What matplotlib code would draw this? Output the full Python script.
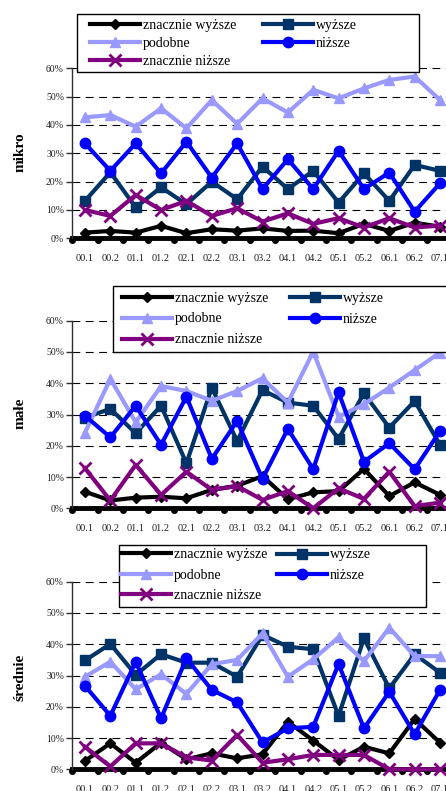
import matplotlib
matplotlib.use("Agg")
import matplotlib.pyplot as plt
import matplotlib.patches as mpatches
import matplotlib.transforms as mtransforms
import numpy as np

W, H = 446, 791
SERIF = "Liberation Serif"

periods = ["00.1", "00.2", "01.1", "01.2", "02.1", "02.2", "03.1", "03.2",
           "04.1", "04.2", "05.1", "05.2", "06.1", "06.2", "07.1"]
series_names = ["znacznie wyższe", "wyższe", "podobne", "niższe", "znacznie niższe"]

# --- mikro ---
mikro_zn_wyzsze = [2.0, 2.6, 2.0, 4.4, 1.8, 3.2, 2.7, 3.5, 2.6, 2.7, 1.8, 5.1, 2.6, 5.5, 4.1]
mikro_wyzsze = [13.2, 23.3, 10.9, 18.0, 12.0, 20.0, 13.8, 25.3, 17.4, 23.8, 12.6, 22.9, 13.2, 25.9, 23.8]
mikro_podobne = [42.7, 43.5, 39.4, 45.9, 38.8, 48.8, 40.4, 49.4, 44.4, 52.4, 49.4, 52.9, 55.9, 57.1, 48.8]
mikro_nizsze = [33.5, 23.8, 33.5, 22.9, 34.1, 21.4, 33.5, 17.4, 27.9, 17.4, 30.9, 17.4, 23.2, 9.4, 19.4]
mikro_zn_nizsze = [10.0, 7.9, 15.3, 10.0, 13.2, 7.9, 10.6, 5.9, 8.8, 5.1, 7.1, 3.8, 7.1, 3.8, 4.5]

# --- małe ---
male_zn_wyzsze = [5.3, 2.5, 3.4, 3.7, 3.2, 5.9, 7.2, 10.3, 2.9, 5.1, 5.5, 12.6, 3.9, 8.3, 4.3]
male_wyzsze = [29.0, 31.8, 24.0, 32.8, 14.4, 38.6, 21.5, 37.8, 33.8, 32.8, 22.2, 36.8, 25.8, 34.3, 20.3]
male_podobne = [24.2, 41.4, 27.5, 39.1, 37.5, 34.4, 37.5, 41.6, 33.8, 50.1, 29.3, 33.3, 38.6, 44.2, 49.8]
male_nizsze = [29.6, 22.7, 32.8, 20.3, 35.7, 15.8, 27.9, 9.4, 25.4, 12.5, 37.1, 14.9, 20.8, 12.5, 24.7]
male_zn_nizsze = [12.8, 2.5, 13.9, 4.3, 11.7, 5.9, 7.1, 2.7, 5.5, 0.0, 6.4, 3.0, 11.7, 0.7, 1.8]

# --- średnie ---
srednie_zn_wyzsze = [2.7, 8.3, 2.1, 8.5, 3.2, 5.1, 3.5, 4.8, 15.2, 9.2, 3.0, 7.2, 5.1, 16.1, 8.5]
srednie_wyzsze = [34.8, 40.1, 30.2, 36.8, 34.1, 34.1, 29.6, 43.0, 39.2, 38.4, 17.1, 41.9, 25.9, 36.8, 30.9]
srednie_podobne = [29.6, 34.4, 25.6, 30.4, 24.1, 33.6, 35.0, 43.5, 29.6, 35.2, 42.2, 34.6, 45.3, 36.2, 36.2]
srednie_nizsze = [26.7, 17.1, 34.4, 16.3, 35.5, 25.4, 21.4, 8.6, 13.1, 13.6, 33.7, 13.1, 24.8, 11.2, 25.4]
srednie_zn_nizsze = [7.2, 0.9, 8.3, 8.3, 3.8, 2.8, 11.0, 2.1, 3.2, 4.6, 4.6, 4.6, 0.0, 0.0, 0.0]

# colour, marker, markersize, extra kwargs
STYLE = {
    "znacznie wyższe": ("#000000", "D", 5.5, {}),
    "wyższe": ("#003366", "s", 6.5, {}),
    "podobne": ("#9999ff", "^", 7.5, {}),
    "niższe": ("#0000ff", "o", 7.5, {}),
    "znacznie niższe": ("#800080", "x", 8, {"markeredgewidth": 2}),
}

fig = plt.figure(figsize=(W / 100, H / 100), dpi=100)
fig.patch.set_facecolor("white")

X_LEFT, X_RIGHT = 72.3, 452.7


def fx(px):
    return px / W


def fy(py):
    return 1 - py / H


def draw_panel(top, bottom, series, ylabel, ylabel_y, box, col1, col2, rows):
    ax = fig.add_axes([fx(X_LEFT), fy(bottom), (X_RIGHT - X_LEFT) / W, (bottom - top) / H])
    x = np.arange(len(periods))
    ax.set_xlim(-0.5, len(periods) - 0.5)
    ax.set_ylim(0, 60)

    # dashed grid
    for v in range(10, 61, 10):
        ax.axhline(v, color="black", linewidth=0.8, dashes=(7, 5), zorder=0.5)

    lines = {}
    for i, (name, vals) in enumerate(zip(series_names, series)):
        color, marker, ms, extra = STYLE[name]
        ln, = ax.plot(x, vals, color=color, marker=marker, markersize=ms,
                      markerfacecolor=color, markeredgecolor=color,
                      linewidth=3, zorder=3 + i, clip_on=False, label=name, **extra)
        lines[name] = ln

    for s in ["top", "right"]:
        ax.spines[s].set_visible(False)
    ax.spines["left"].set_linewidth(1.0)
    ax.spines["left"].set_color("#303030")
    ax.spines["bottom"].set_linewidth(3.5)
    ax.spines["bottom"].set_zorder(2)

    # round tick dots between categories
    off = mtransforms.offset_copy(ax.transData, fig=fig, x=0, y=-2, units="dots")
    bounds = np.arange(len(periods) + 1) - 0.5
    ax.plot(bounds, np.zeros_like(bounds), "o", color="black", markersize=4,
            transform=off, clip_on=False, zorder=2)

    ax.set_yticks(range(0, 61, 10))
    ax.set_yticklabels([f"{v}%" for v in range(0, 61, 10)], fontsize=7, family=SERIF)
    ax.tick_params(axis="y", direction="out", length=4, width=1, pad=2, color="#303030")
    ax.set_xticks(x)
    ax.set_xticklabels(periods, fontsize=7.5, family=SERIF)
    ax.tick_params(axis="x", length=0, pad=11)
    for t in ax.get_yticklabels() + ax.get_xticklabels():
        t.set_color("#202020")

    fig.text(fx(20), fy(ylabel_y), ylabel, rotation=90, ha="center", va="center",
             fontsize=11, fontweight="bold", family=SERIF)

    # legend frame
    bx0, by0, bx1, by1 = box
    fig.patches.append(mpatches.Rectangle((fx(bx0), fy(by1)), (bx1 - bx0) / W, (by1 - by0) / H,
                                          transform=fig.transFigure, facecolor="white",
                                          edgecolor="black", linewidth=1, zorder=10))
    fs = 10
    fpx = fs * 100 / 72
    hl = 50 / fpx
    r1, r2, r3 = rows
    ls = ((r2 - r1) - 0.92 * fpx) / fpx
    names1 = ["znacznie wyższe", "podobne", "znacznie niższe"]
    names2 = ["wyższe", "niższe"]
    leg1 = fig.legend([lines[n] for n in names1], names1, loc="center left",
                      bbox_to_anchor=(fx(col1), fy(r2)), frameon=False, borderpad=0,
                      borderaxespad=0, handlelength=hl, handletextpad=0.2,
                      labelspacing=ls, prop={"family": SERIF, "size": fs})
    leg2 = fig.legend([lines[n] for n in names2], names2, loc="center left",
                      bbox_to_anchor=(fx(col2), fy((r1 + r2) / 2)), frameon=False, borderpad=0,
                      borderaxespad=0, handlelength=hl, handletextpad=0.2,
                      labelspacing=ls, prop={"family": SERIF, "size": fs})
    leg1.set_zorder(11)
    leg2.set_zorder(11)
    return ax


draw_panel(68.3, 238.3,
           [mikro_zn_wyzsze, mikro_wyzsze, mikro_podobne, mikro_nizsze, mikro_zn_nizsze],
           "mikro", 152, (77, 14, 419, 72), 90, 263, (25.7, 43.3, 61.7))
draw_panel(320.7, 508.3,
           [male_zn_wyzsze, male_wyzsze, male_podobne, male_nizsze, male_zn_nizsze],
           "małe", 413, (113, 286, 460, 352), 122, 290, (298.3, 319, 340))
draw_panel(581.7, 769.3,
           [srednie_zn_wyzsze, srednie_wyzsze, srednie_podobne, srednie_nizsze, srednie_zn_nizsze],
           "średnie", 677, (119, 545, 426, 607), 121, 277, (555, 575, 593.3))

fig.savefig("out.png", dpi=100)
